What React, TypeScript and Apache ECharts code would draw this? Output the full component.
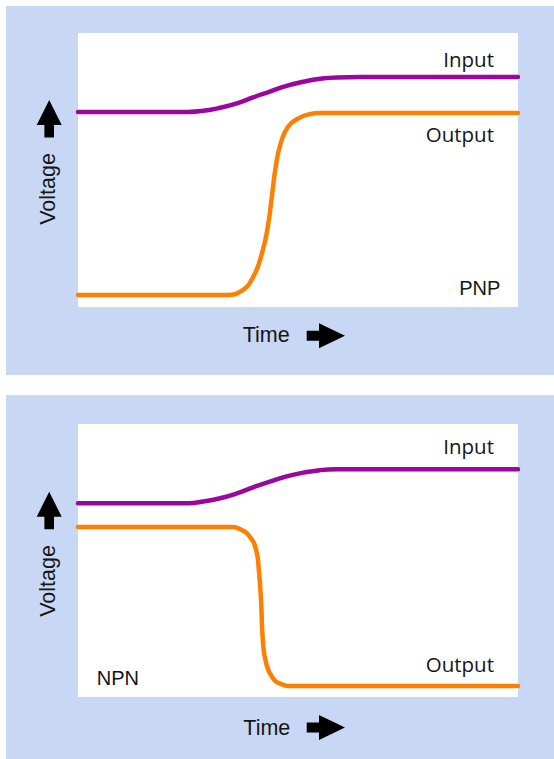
import React, { useEffect, useRef } from "react";
import * as echarts from "echarts";

const W = 554;
const H = 759;

// [time, voltage] on a 0–100 scale for both axes
const pnpInput: [number, number][] = [
  [0, 71.2], [25, 71.2], [28.5, 71.6], [32.3, 72.7], [36.1, 74.3], [39.8, 76.5],
  [43.6, 78.6], [47.4, 80.7], [51.2, 82.2], [55.0, 83.3], [58.8, 83.8], [64.1, 83.9], [100, 83.9],
];
const pnpOutput: [number, number][] = [
  [0, 4.4], [30, 4.4], [33.9, 4.4], [36.8, 5.5], [39.8, 10.9], [42.0, 20.8], [43.2, 29.9],
  [44.1, 40.9], [45.0, 51.8], [46.1, 59.9], [47.7, 65.7], [49.8, 68.6], [52.7, 70.4],
  [55.0, 70.8], [100, 70.8],
];
const npnInput: [number, number][] = [
  [0, 71.0], [25, 71.0], [28.5, 71.6], [32.3, 72.8], [36.1, 74.6], [39.8, 76.8],
  [43.6, 78.9], [47.4, 80.8], [51.2, 82.2], [55.0, 83.1], [58.8, 83.4], [64.1, 83.4], [100, 83.4],
];
const npnOutput: [number, number][] = [
  [0, 62.3], [30, 62.3], [34.5, 62.3], [36.8, 61.5], [39.1, 58.6], [40.5, 53.8], [41.1, 46.5],
  [41.6, 35.5], [42.0, 20.9], [42.7, 12.8], [44.1, 7.3], [46.1, 4.8], [48.6, 4.0], [100, 4.0],
];

const seriesNames = ["Input", "Output"];
const panelNames = ["PNP", "NPN"];
const xName = "Time";
const yName = "Voltage";

const BLUE = "#c8d8f4";
const PURPLE = "#9c06a0";
const ORANGE = "#ff8000";
const INK = "#151515";

export default function App() {
  const ref = useRef<HTMLDivElement>(null);
  useEffect(() => {
    const chart = echarts.init(ref.current!, null, { renderer: "svg" });
    const lineSeries = (name: string, data: [number, number][], idx: number, color: string) => ({
      type: "line",
      name,
      data,
      xAxisIndex: idx,
      yAxisIndex: idx,
      smooth: 0.5,
      showSymbol: false,
      symbol: "none",
      clip: false,
      z: 5,
      lineStyle: { color, width: 4.5, cap: "round", join: "round" },
    });
    const sansA = "'Open Sans', sans-serif";
    const sansB = "'Liberation Sans', Arial, sans-serif";
    const txt = (text: string, x: number, y: number, align: string, font: string, size: number, rotation = 0) => ({
      type: "text",
      x,
      y,
      rotation,
      z: 10,
      style: { text, fill: INK, font: `${size}px ${font}`, align, verticalAlign: "middle" },
    });
    const rightArrow = (y: number) => ({
      type: "polygon",
      z: 10,
      shape: {
        points: [
          [306.7, y - 5], [319, y - 5], [319, y - 12.5], [345, y], [319, y + 12.5], [319, y + 5], [306.7, y + 5],
        ],
      },
      style: { fill: "#000" },
    });
    const upArrow = (top: number) => ({
      type: "polygon",
      z: 10,
      shape: {
        points: [
          [49.2, top], [61.7, top + 25], [54, top + 25], [54, top + 37.5], [44.4, top + 37.5], [44.4, top + 25], [36.7, top + 25],
        ],
      },
      style: { fill: "#000" },
    });
    chart.setOption({
      animation: false,
      backgroundColor: "#ffffff",
      grid: [
        { left: 78, top: 33, width: 440, height: 274, show: true, backgroundColor: "#ffffff", borderWidth: 0, z: 1 },
        { left: 78, top: 424, width: 440, height: 273, show: true, backgroundColor: "#ffffff", borderWidth: 0, z: 1 },
      ],
      xAxis: [0, 1].map((i) => ({ gridIndex: i, type: "value", min: 0, max: 100, show: false })),
      yAxis: [0, 1].map((i) => ({ gridIndex: i, type: "value", min: 0, max: 100, show: false })),
      series: [
        lineSeries(seriesNames[0], pnpInput, 0, PURPLE),
        lineSeries(seriesNames[1], pnpOutput, 0, ORANGE),
        lineSeries(seriesNames[0], npnInput, 1, PURPLE),
        lineSeries(seriesNames[1], npnOutput, 1, ORANGE),
      ],
      graphic: [
        { type: "rect", z: -10, silent: true, shape: { x: 6, y: 6, width: W - 6, height: 369 }, style: { fill: BLUE } },
        { type: "rect", z: -10, silent: true, shape: { x: 6, y: 395, width: W - 6, height: H - 395 }, style: { fill: BLUE } },
        txt(seriesNames[0], 494, 58.5, "right", sansA, 20.5),
        txt(seriesNames[1], 494, 134.2, "right", sansA, 20.5),
        txt(panelNames[0], 500.3, 287.5, "right", sansB, 20),
        txt(xName, 242.7, 335, "left", sansB, 21.5),
        txt(yName, 47.5, 189, "center", sansB, 21.5, Math.PI / 2),
        rightArrow(335.7),
        upArrow(100),
        txt(seriesNames[0], 494, 446.2, "right", sansA, 20.5),
        txt(seriesNames[1], 494, 663.8, "right", sansA, 20.5),
        txt(panelNames[1], 96.7, 678, "left", sansB, 20),
        txt(xName, 243.3, 728, "left", sansB, 21.5),
        txt(yName, 47.5, 581, "center", sansB, 21.5, Math.PI / 2),
        rightArrow(727.5),
        upArrow(491.7),
      ],
    });
    return () => chart.dispose();
  }, []);
  return <div ref={ref} style={{ position: "fixed", left: 0, top: 0, width: W, height: H }} />;
}
